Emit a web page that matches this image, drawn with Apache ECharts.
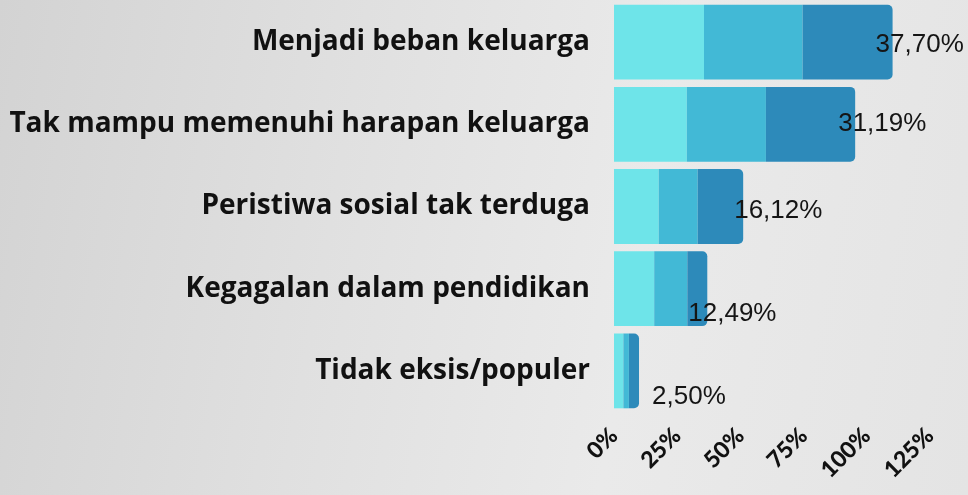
<!DOCTYPE html>
<html>
<head>
<meta charset="utf-8">
<script src="https://cdn.jsdelivr.net/npm/echarts@6/dist/echarts.min.js"></script>
<style>
  html, body {
    margin: 0;
    padding: 0;
  }
  body {
    width: 968px;
    height: 495px;
    background: linear-gradient(100deg, #d3d3d3 0%, #e0e0e0 35%, #eaeaea 65%, #e4e4e4 100%);
  }
  #chart {
    width: 968px;
    height: 495px;
  }
</style>
</head>
<body>
<div id="chart"></div>
<script>
// categories top to bottom
const categories = [
  "Menjadi beban keluarga",
  "Tak mampu memenuhi harapan keluarga",
  "Peristiwa sosial tak terduga",
  "Kegagalan dalam pendidikan",
  "Tidak eksis/populer"
]
// share printed next to each bar
const shares = [37.70, 31.19, 16.12, 12.49, 2.50]
// three stacked segments
const segmentA = [35.6, 28.8, 17.7, 15.9, 3.7]
const segmentB = [39.0, 31.3, 15.4, 13.1, 2.2]
const segmentC = [35.6, 35.3, 18.0, 7.9, 4.0]
const xTicks = [0, 25, 50, 75, 100, 125]

const colors = ["#6ee4e9", "#42b9d6", "#2d8aba"]
// label nudges so the percentages sit where the original puts them
const labelShift = [[-22, 3], [-22, 0], [-14, 4], [-24, 25], [8, 26]]

const chart = echarts.init(document.getElementById("chart"))

const fmt = v => v.toFixed(2).replace(".", ",") + "%"

const makeSeries = (name, values, idx) => {
  const last = idx === 2
  return {
    name: name,
    type: "bar",
    stack: "total",
    barCategoryGap: "9%",
    data: values.map((v, i) => {
      const item = { value: v }
      if (last) {
        item.label = {
          show: true,
          position: "right",
          offset: labelShift[i],
          formatter: () => fmt(shares[i]),
          color: "#151515",
          fontSize: 26,
          fontFamily: "Liberation Sans, Arial, sans-serif"
        }
      }
      return item
    }),
    itemStyle: {
      color: colors[idx],
      borderRadius: last ? [0, 5, 5, 0] : 0
    },
    silent: true
  }
}

const option = {
  animation: false,
  grid: {
    left: 614,
    right: 38,
    top: 1,
    bottom: 83
  },
  xAxis: {
    type: "value",
    min: xTicks[0],
    max: xTicks[xTicks.length - 1],
    interval: 25,
    axisLine: { show: false },
    axisTick: { show: false },
    splitLine: { show: false },
    axisLabel: {
      rotate: 45,
      margin: 20,
      color: "#111",
      fontSize: 23,
      fontWeight: 900,
      fontFamily: "Lato, sans-serif",
      formatter: "{value}%"
    }
  },
  yAxis: {
    type: "category",
    inverse: true,
    data: categories,
    axisLine: { show: false },
    axisTick: { show: false },
    axisLabel: {
      margin: 24,
      color: "#111",
      fontSize: 28,
      fontWeight: 700,
      fontFamily: "Open Sans, sans-serif"
    }
  },
  series: [
    makeSeries("A", segmentA, 0),
    makeSeries("B", segmentB, 1),
    makeSeries("C", segmentC, 2)
  ]
}

chart.setOption(option)
window.addEventListener("resize", () => chart.resize())
</script>
</body>
</html>
